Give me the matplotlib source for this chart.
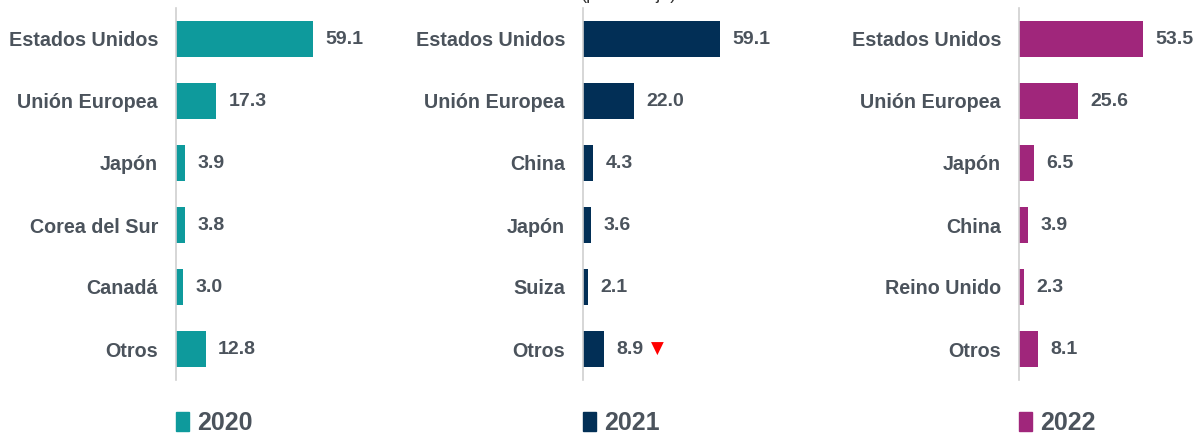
import matplotlib.pyplot as plt
from matplotlib.patches import Patch

plt.rcParams['font.family'] = ['Liberation Sans', 'DejaVu Sans']

# Datos por año (porcentaje)
paises_2020 = ["Estados Unidos", "Unión Europea", "Japón", "Corea del Sur", "Canadá", "Otros"]
valores_2020 = [59.1, 17.3, 3.9, 3.8, 3.0, 12.8]

paises_2021 = ["Estados Unidos", "Unión Europea", "China", "Japón", "Suiza", "Otros"]
valores_2021 = [59.1, 22.0, 4.3, 3.6, 2.1, 8.9]

paises_2022 = ["Estados Unidos", "Unión Europea", "Japón", "China", "Reino Unido", "Otros"]
valores_2022 = [53.5, 25.6, 6.5, 3.9, 2.3, 8.1]

anios = ["2020", "2021", "2022"]
colores = ["#0e9a9c", "#022f56", "#a0267b"]
gris = "#4b535c"

W, H = 1199, 436
fig = plt.figure(figsize=(W / 100, H / 100), dpi=100)

px_por_unidad = 2.31
ancho_px = 230
izquierdas = [176, 583, 1019]

paneles = [(paises_2020, valores_2020), (paises_2021, valores_2021), (paises_2022, valores_2022)]

for i, (paises, valores) in enumerate(paneles):
    ax = fig.add_axes([izquierdas[i] / W, 56 / H, ancho_px / W, 372 / H])
    pos = list(range(len(paises)))
    ax.barh(pos, valores, height=0.58, color=colores[i])
    ax.set_ylim(len(paises) - 0.5, -0.5)
    ax.set_xlim(0, ancho_px / px_por_unidad)
    ax.set_yticks(pos)
    ax.set_yticklabels(paises, fontsize=14.2, fontweight='bold', color=gris)
    ax.tick_params(axis='y', length=0, pad=13)
    ax.set_xticks([])
    for lado in ['top', 'right', 'bottom']:
        ax.spines[lado].set_visible(False)
    ax.spines['left'].set_color('#d0d0d0')
    ax.spines['left'].set_linewidth(1.2)
    for p, v in zip(pos, valores):
        ax.annotate(f"{v:.1f}", (v, p), xytext=(9, 0), textcoords='offset points',
                    va='center', ha='left', fontsize=14, fontweight='bold', color=gris)
    if i == 1:
        # caída en "Otros"
        ax.annotate("▼", (valores[-1], pos[-1]), xytext=(39, 0), textcoords='offset points',
                    va='center', ha='center', fontsize=12, color='#ff0000',
                    family=['DejaVu Sans'])
    ax.legend(handles=[Patch(color=colores[i], label=anios[i])],
              loc='center left', bbox_to_anchor=(0.0, -0.115), frameon=False,
              borderaxespad=0, borderpad=0,
              handlelength=0.5, handleheight=0.8, handletextpad=0.35,
              prop={'size': 18, 'weight': 'bold'}, labelcolor=gris)

fig.text(0.525, 1.012, "(porcentaje)", ha='center', va='center', fontsize=13, color='#333333')

fig.savefig("out.png", dpi=100)
